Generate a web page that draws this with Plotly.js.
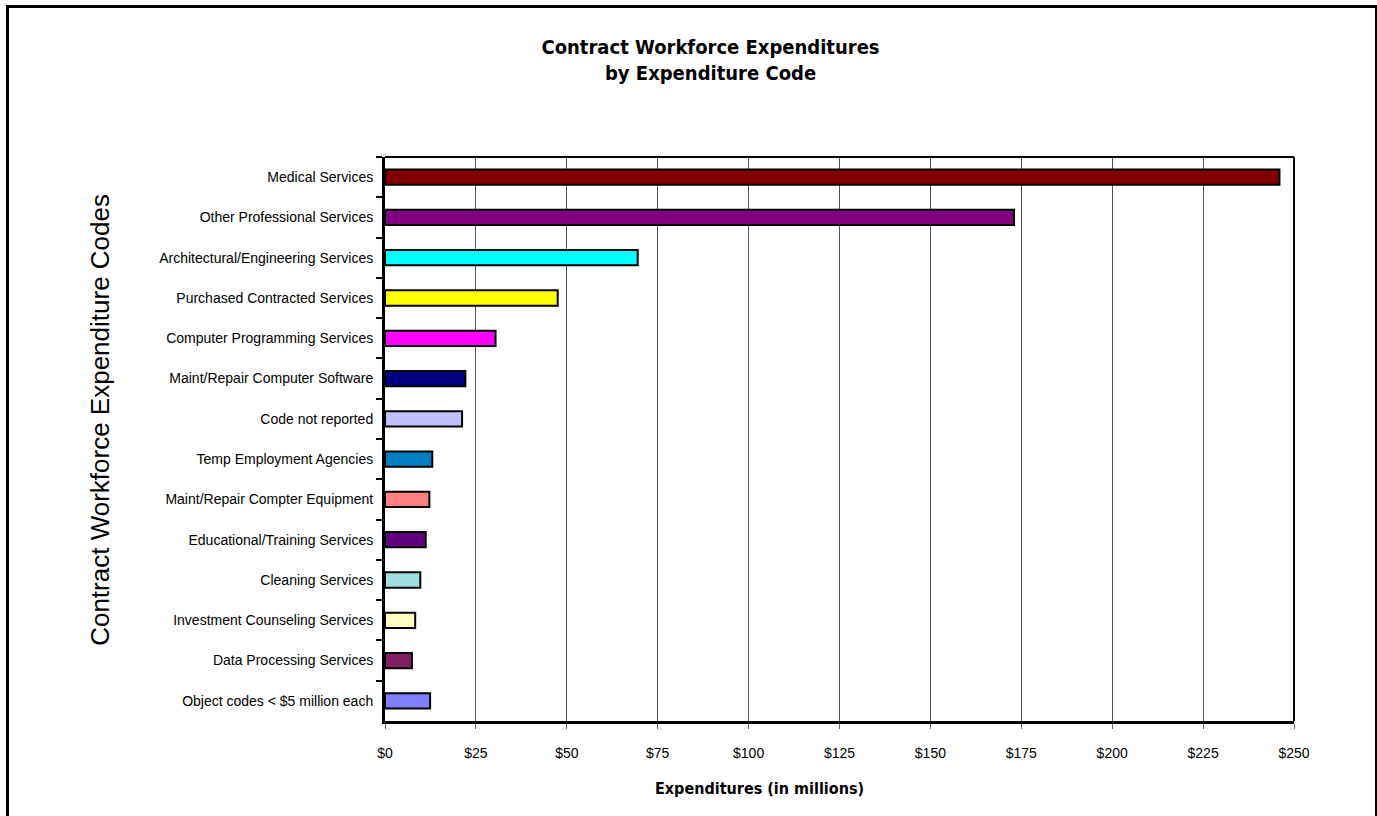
<!DOCTYPE html>
<html>
<head>
<meta charset="utf-8">
<script src="https://cdn.plot.ly/plotly-3.0.1.min.js"></script>
<style>
html,body{margin:0;padding:0;background:#fff;overflow:hidden;}
#chart{position:absolute;left:0;top:0;width:1377px;height:816px;}
#frame{position:absolute;left:6px;top:5px;width:1366px;height:820px;border:3px solid #000;pointer-events:none;}
</style>
</head>
<body>
<div id="chart"></div>
<div id="frame"></div>
<script>
const categories = [
  "Medical Services",
  "Other Professional Services",
  "Architectural/Engineering Services",
  "Purchased Contracted Services",
  "Computer Programming Services",
  "Maint/Repair Computer Software",
  "Code not reported",
  "Temp Employment Agencies",
  "Maint/Repair Compter Equipment",
  "Educational/Training Services",
  "Cleaning Services",
  "Investment Counseling Services",
  "Data Processing Services",
  "Object codes < $5 million each"
];
const expenditures = [246, 173, 69.5, 47.5, 30.4, 22.1, 21.2, 13.0, 12.2, 11.2, 9.7, 8.3, 7.4, 12.4];
const barColors = ["#800000","#800080","#00FFFF","#FFFF00","#FF00FF","#000080","#C0C0FF",
                   "#0080C0","#FF8080","#600080","#A0E0E0","#FFFFC0","#802060","#8080FF"];
const xTickVals = [0,25,50,75,100,125,150,175,200,225,250];
const xTickText = xTickVals.map(v => "$" + v);

const TITLE_FONT = "'DejaVu Sans Condensed', 'DejaVu Sans', sans-serif";
const LABEL_FONT = "'Liberation Sans', Arial, sans-serif";

Plotly.newPlot("chart", [{
  type: "bar",
  orientation: "h",
  y: categories,
  x: expenditures,
  width: 0.38,
  marker: {color: barColors, line: {color: "#000", width: 2}},
  hoverinfo: "x+y"
}], {
  width: 1377, height: 816,
  margin: {l: 385, r: 83, t: 157, b: 95},
  paper_bgcolor: "#fff", plot_bgcolor: "#fff",
  showlegend: false,
  title: {
    text: "<b>Contract Workforce Expenditures<br>by Expenditure Code</b>",
    x: 0.516, xanchor: "center", y: 0.934, yanchor: "top",
    font: {family: TITLE_FONT, size: 20, color: "#000"}
  },
  xaxis: {
    range: [0, 250],
    tickvals: xTickVals, ticktext: xTickText,
    showgrid: true, gridcolor: "#555", gridwidth: 1,
    zeroline: false,
    showline: true, linecolor: "#000", linewidth: 3, mirror: false,
    ticks: "outside", ticklen: 5, tickcolor: "#666", tickwidth: 1,
    ticklabelstandoff: 12,
    tickfont: {family: LABEL_FONT, size: 14, color: "#000"},
    fixedrange: true
  },
  yaxis: {
    autorange: "reversed",
    tickson: "boundaries",
    ticks: "outside", ticklen: 6, tickcolor: "#000", tickwidth: 2,
    ticklabelstandoff: 6,
    showline: true, linecolor: "#000", linewidth: 3,
    showgrid: false, zeroline: false,
    tickfont: {family: LABEL_FONT, size: 14, color: "#000"},
    fixedrange: true
  },
  annotations: [
    {text: "<b>Expenditures (in millions)</b>", xref: "paper", yref: "paper",
     x: 0.4125, y: -0.12, xanchor: "center", yanchor: "middle", showarrow: false,
     font: {family: TITLE_FONT, size: 16, color: "#000"}},
    {text: "Contract Workforce Expenditure Codes", xref: "paper", yref: "paper",
     x: -0.3135, y: 0.534, xanchor: "center", yanchor: "middle", textangle: -90, showarrow: false,
     font: {family: LABEL_FONT, size: 26, color: "#000"}}
  ],
  shapes: [
    {type: "line", xref: "paper", yref: "paper", x0: 0, x1: 1, y0: 1, y1: 1, line: {color: "#000", width: 2}},
    {type: "line", xref: "paper", yref: "paper", x0: 1, x1: 1, y0: 0, y1: 1, line: {color: "#000", width: 2}}
  ]
}, {displayModeBar: false, staticPlot: true});
</script>
</body>
</html>
